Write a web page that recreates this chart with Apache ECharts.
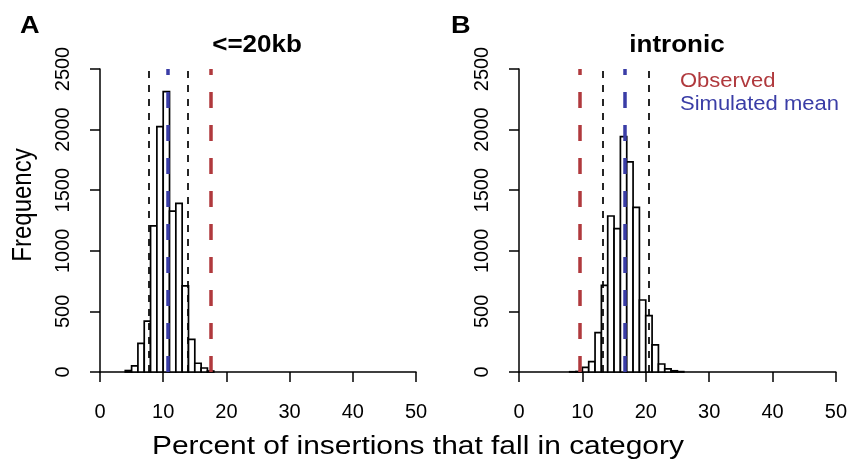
<!DOCTYPE html>
<html><head><meta charset="utf-8">
<script src="https://cdn.jsdelivr.net/npm/echarts@6/dist/echarts.min.js"></script>
<style>html,body{margin:0;padding:0;background:#fff}#c{width:850px;height:462px}</style>
</head><body><div id="c"></div>
<script>
// Panel A (<=20kb): histogram bins (left edge, width 1) and counts
const binLeftA = [4,5,6,7,8,9,10,11,12,13,14,15,16,17];
const countsA  = [12,50,237,420,1205,2024,2313,1328,1392,710,270,72,33,8];
// Panel B (intronic)
const binLeftB = [8,9,10,11,12,13,14,15,16,17,18,19,20,21,22,23,24,25];
const countsB  = [2,4,38,85,325,715,1287,1183,1942,1733,1359,594,465,223,66,25,10,3];
// Reference lines
const linesA = {observed:17.45, mean:10.65, lo:7.65, hi:13.87};
const linesB = {observed:9.52, mean:16.72, lo:13.14, hi:20.4};
const xTicks = [0,10,20,30,40,50];
const yTicks = [0,500,1000,1500,2000,2500];
const panelTitles = ['<=20kb','intronic'];
const panelLetters = ['A','B'];
const legendItems = ['Observed','Simulated mean'];
const xLabel = 'Percent of insertions that fall in category';
const yLabel = 'Frequency';

const RED = '#B0393D', BLUE = '#3A3DA6';
const FONT = 'Liberation Sans, Arial, Helvetica, sans-serif';
const SX = 1.13;

function bins(left, counts){ return left.map((l,i)=>[l, l+1, counts[i]]); }

function xAxisDef(gi){
  return {type:'value', gridIndex:gi, min:xTicks[0], max:xTicks[xTicks.length-1], interval:10,
    axisLine:{show:true, onZero:false, lineStyle:{color:'#000', width:1.5}},
    axisTick:{show:true, length:10, inside:false, lineStyle:{color:'#000', width:1.5}},
    axisLabel:{color:'#000', fontSize:20, fontFamily:FONT, margin:30},
    splitLine:{show:false}};
}
function yAxisDef(gi){
  return {type:'value', gridIndex:gi, min:yTicks[0], max:yTicks[yTicks.length-1], interval:500,
    axisLine:{show:true, lineStyle:{color:'#000', width:1.5}},
    axisTick:{show:true, length:10, inside:false, lineStyle:{color:'#000', width:1.5}},
    axisLabel:{color:'#000', fontSize:20, fontFamily:FONT, rotate:90, margin:27,
      formatter:function(v){ return String(v); }},
    splitLine:{show:false}};
}
function histSeries(gi, data, lines){
  return {type:'custom', xAxisIndex:gi, yAxisIndex:gi, data:data, encode:{x:[0,1], y:2},
    renderItem:function(params, api){
      const p0 = api.coord([api.value(0), api.value(2)]);
      const p1 = api.coord([api.value(1), 0]);
      return {type:'rect', shape:{x:p0[0], y:p0[1], width:p1[0]-p0[0], height:p1[1]-p0[1]},
        style:{fill:'#fff', stroke:'#000', lineWidth:1.7}};
    },
    markLine:{silent:true, symbol:['none','none'], label:{show:false}, animation:false,
      data:[
        {xAxis:lines.lo, lineStyle:{color:'#000', width:1.7, type:[7,7]}},
        {xAxis:lines.hi, lineStyle:{color:'#000', width:1.7, type:[7,7]}},
        {xAxis:lines.observed, lineStyle:{color:RED, width:3.5, type:[16,17]}},
        {xAxis:lines.mean, lineStyle:{color:BLUE, width:3.5, type:[16,17]}}
      ]}
  };
}

const chart = echarts.init(document.getElementById('c'), null, {renderer:'canvas'});
chart.setOption({
  animation:false,
  backgroundColor:'#fff',
  grid:[
    {left:100, top:69, width:316, height:303},
    {left:519, top:69, width:317, height:303}
  ],
  xAxis:[xAxisDef(0), xAxisDef(1)],
  yAxis:[yAxisDef(0), yAxisDef(1)],
  series:[histSeries(0, bins(binLeftA,countsA), linesA), histSeries(1, bins(binLeftB,countsB), linesB)],
  graphic:[
    {type:'text', x:20, y:26, scaleX:SX, style:{text:panelLetters[0], font:'bold 24px '+FONT, fill:'#000', verticalAlign:'middle'}},
    {type:'text', x:451, y:26, scaleX:SX, style:{text:panelLetters[1], font:'bold 24px '+FONT, fill:'#000', verticalAlign:'middle'}},
    {type:'text', x:257, y:46, scaleX:SX, style:{text:panelTitles[0], font:'bold 23px '+FONT, fill:'#000', align:'center', verticalAlign:'middle'}},
    {type:'text', x:677, y:46, scaleX:SX, style:{text:panelTitles[1], font:'bold 23px '+FONT, fill:'#000', align:'center', verticalAlign:'middle'}},
    {type:'text', x:680, y:81, scaleX:1.1, style:{text:legendItems[0], font:'20px '+FONT, fill:RED, verticalAlign:'middle'}},
    {type:'text', x:680, y:104, scaleX:1.1, style:{text:legendItems[1], font:'20px '+FONT, fill:BLUE, verticalAlign:'middle'}},
    {type:'text', x:24, y:205, rotation:Math.PI/2, scaleY:SX, style:{text:yLabel, font:'24px '+FONT, fill:'#000', align:'center', verticalAlign:'middle'}},
    {type:'text', x:152, y:447, scaleX:1.15, style:{text:xLabel, font:'26px '+FONT, fill:'#000', verticalAlign:'middle'}}
  ]
});
</script></body></html>
